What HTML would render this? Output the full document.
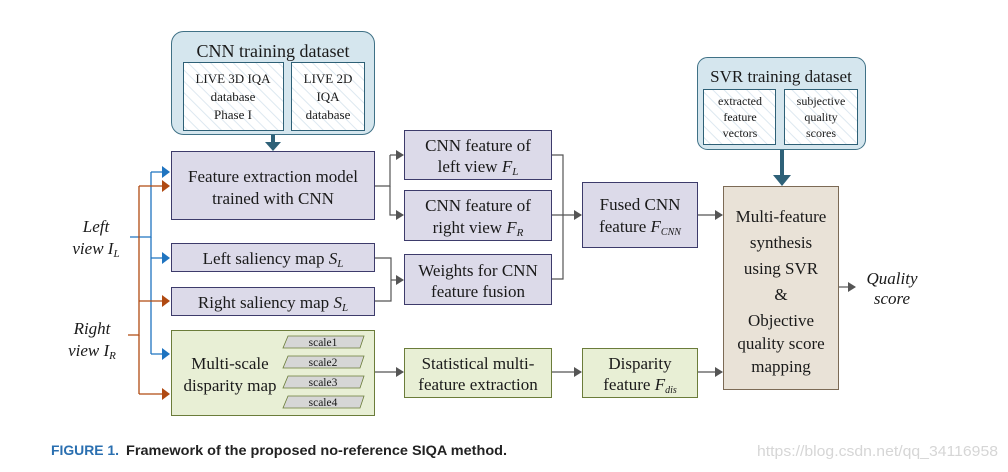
<!DOCTYPE html>
<html><head><meta charset="utf-8"><style>
html,body{margin:0;padding:0;background:#fff;}
svg{display:block;}
text{font-family:"Liberation Serif",serif;fill:#1a1a1a;}
text.sans{font-family:"Liberation Sans Narrow","Liberation Sans",sans-serif;}
.c{text-anchor:middle;}
</style></head><body>
<svg width="1008" height="472" viewBox="0 0 1008 472" xmlns="http://www.w3.org/2000/svg">
<defs>
<pattern id="hat" width="8" height="8" patternUnits="userSpaceOnUse" patternTransform="rotate(-45)">
<rect width="8" height="8" fill="#fff"/><line x1="0" y1="0" x2="0" y2="8" stroke="#dde8f0" stroke-width="2"/></pattern>
<marker id="ag" markerWidth="8" markerHeight="10" refX="7" refY="5" orient="auto" markerUnits="userSpaceOnUse"><path d="M0,0 L8,5 L0,10z" fill="#555"/></marker>
<marker id="ab" markerWidth="8" markerHeight="12" refX="7" refY="6" orient="auto" markerUnits="userSpaceOnUse"><path d="M0,0 L8,6 L0,12z" fill="#1f74c0"/></marker>
<marker id="ar" markerWidth="8" markerHeight="12" refX="7" refY="6" orient="auto" markerUnits="userSpaceOnUse"><path d="M0,0 L8,6 L0,12z" fill="#b04a12"/></marker>
</defs>

<rect x="171.5" y="31.5" width="203" height="103" rx="12" fill="#d5e6ee" stroke="#3f7186"/>
<text x="273" y="57" class="c" font-size="18">CNN training dataset</text>
<rect x="183.5" y="62.5" width="100" height="68" fill="url(#hat)" stroke="#2e6076"/>
<rect x="291.5" y="62.5" width="73" height="68" fill="url(#hat)" stroke="#2e6076"/>
<text x="233" y="83" class="c" font-size="13">LIVE 3D IQA</text>
<text x="233" y="101" class="c" font-size="13">database</text>
<text x="233" y="119" class="c" font-size="13">Phase I</text>
<text x="328" y="83" class="c" font-size="13">LIVE 2D</text>
<text x="328" y="101" class="c" font-size="13">IQA</text>
<text x="328" y="119" class="c" font-size="13">database</text>
<rect x="271" y="135" width="4" height="8" fill="#2e6178"/>
<path d="M265,142 L281,142 L273,151z" fill="#2e6178"/>

<rect x="697.5" y="57.5" width="168" height="92" rx="10" fill="#d5e6ee" stroke="#3f7186"/>
<text x="781" y="82" class="c" font-size="17">SVR training dataset</text>
<rect x="703.5" y="89.5" width="72" height="55" fill="url(#hat)" stroke="#2e6076"/>
<rect x="784.5" y="89.5" width="73" height="55" fill="url(#hat)" stroke="#2e6076"/>
<text x="740" y="105" class="c" font-size="12">extracted</text>
<text x="740" y="121" class="c" font-size="12">feature</text>
<text x="740" y="137" class="c" font-size="12">vectors</text>
<text x="821" y="105" class="c" font-size="12">subjective</text>
<text x="821" y="121" class="c" font-size="12">quality</text>
<text x="821" y="137" class="c" font-size="12">scores</text>
<rect x="780" y="150" width="4" height="26" fill="#2e6178"/>
<path d="M773,175 L791,175 L782,186z" fill="#2e6178"/>

<g fill="#dcdae9" stroke="#3d3b6b">
<rect x="171.5" y="151.5" width="203" height="68"/>
<rect x="171.5" y="243.5" width="203" height="28"/>
<rect x="171.5" y="287.5" width="203" height="28"/>
<rect x="404.5" y="130.5" width="147" height="49"/>
<rect x="404.5" y="190.5" width="147" height="50"/>
<rect x="404.5" y="254.5" width="147" height="50"/>
<rect x="582.5" y="182.5" width="115" height="65"/>
</g>
<g fill="#e8efd5" stroke="#6b7c3a">
<rect x="171.5" y="330.5" width="203" height="85"/>
<rect x="404.5" y="348.5" width="147" height="49"/>
<rect x="582.5" y="348.5" width="115" height="49"/>
</g>
<rect x="723.5" y="186.5" width="115" height="203" fill="#e9e2d7" stroke="#7c6a55"/>

<g font-size="17">
<text x="273" y="182" class="c">Feature extraction model</text>
<text x="273" y="204" class="c">trained with CNN</text>
<text x="273" y="264" class="c">Left saliency map <tspan font-style="italic">S</tspan><tspan font-style="italic" font-size="11" dy="3">L</tspan></text>
<text x="273" y="308" class="c">Right saliency map <tspan font-style="italic">S</tspan><tspan font-style="italic" font-size="11" dy="3">L</tspan></text>
<text x="230" y="369" class="c">Multi-scale</text>
<text x="230" y="391" class="c">disparity map</text>
<text x="478" y="151" class="c">CNN feature of</text>
<text x="478" y="172" class="c">left view <tspan font-style="italic">F</tspan><tspan font-style="italic" font-size="11" dy="3">L</tspan></text>
<text x="478" y="211" class="c">CNN feature of</text>
<text x="478" y="233" class="c">right view <tspan font-style="italic">F</tspan><tspan font-style="italic" font-size="11" dy="3">R</tspan></text>
<text x="478" y="276" class="c">Weights for CNN</text>
<text x="478" y="297" class="c">feature fusion</text>
<text x="640" y="210" class="c">Fused CNN</text>
<text x="640" y="232" class="c">feature <tspan font-style="italic">F</tspan><tspan font-style="italic" font-size="10" dy="3">CNN</tspan></text>
<text x="478" y="369" class="c">Statistical multi-</text>
<text x="478" y="390" class="c">feature extraction</text>
<text x="640" y="369" class="c">Disparity</text>
<text x="640" y="390" class="c">feature <tspan font-style="italic">F</tspan><tspan font-style="italic" font-size="10" dy="3">dis</tspan></text>
<text x="781" y="222" class="c">Multi-feature</text>
<text x="781" y="248" class="c">synthesis</text>
<text x="781" y="274" class="c">using SVR</text>
<text x="781" y="300" class="c">&amp;</text>
<text x="781" y="326" class="c">Objective</text>
<text x="781" y="349" class="c">quality score</text>
<text x="781" y="372" class="c">mapping</text>
<text x="892" y="284" class="c" font-style="italic">Quality</text>
<text x="892" y="304" class="c" font-style="italic">score</text>
<text x="96" y="232" class="c" font-style="italic">Left</text>
<text x="96" y="254" class="c" font-style="italic">view I<tspan font-size="11" dy="3">L</tspan></text>
<text x="92" y="334" class="c" font-style="italic">Right</text>
<text x="92" y="356" class="c" font-style="italic">view I<tspan font-size="11" dy="3">R</tspan></text>
</g>

<g fill="#d6d6d6" stroke="#6b7c3a" stroke-width="0.8">
<path d="M288,336 L364,336 L360,348 L283,348z"/>
<path d="M288,356 L364,356 L360,368 L283,368z"/>
<path d="M288,376 L364,376 L360,388 L283,388z"/>
<path d="M288,396 L364,396 L360,408 L283,408z"/>
</g>
<g font-size="11.5">
<text x="323" y="346" class="c">scale1</text>
<text x="323" y="366" class="c">scale2</text>
<text x="323" y="386" class="c">scale3</text>
<text x="323" y="406" class="c">scale4</text>
</g>

<g fill="none" stroke="#1f74c0" stroke-width="1.3">
<path d="M130,237 H151 V172"/>
<path d="M151,172 H169" marker-end="url(#ab)"/>
<path d="M151,237 V354"/>
<path d="M151,258 H169" marker-end="url(#ab)"/>
<path d="M151,354 H169" marker-end="url(#ab)"/>
</g>
<g fill="none" stroke="#b04a12" stroke-width="1.3">
<path d="M128,335 H139 V186"/>
<path d="M139,186 H169" marker-end="url(#ar)"/>
<path d="M139,335 V394"/>
<path d="M139,301 H169" marker-end="url(#ar)"/>
<path d="M139,394 H169" marker-end="url(#ar)"/>
</g>

<g fill="none" stroke="#555" stroke-width="1.2">
<path d="M375,186 H390 V155"/>
<path d="M390,155 H403" marker-end="url(#ag)"/>
<path d="M390,186 V215 H403" marker-end="url(#ag)"/>
<path d="M375,258 H391 V301 H375"/>
<path d="M391,280 H403" marker-end="url(#ag)"/>
<path d="M552,155 H563 V279 H552"/>
<path d="M552,215 H581" marker-end="url(#ag)"/>
<path d="M698,215 H722" marker-end="url(#ag)"/>
<path d="M375,372 H403" marker-end="url(#ag)"/>
<path d="M552,372 H581" marker-end="url(#ag)"/>
<path d="M698,372 H722" marker-end="url(#ag)"/>
<path d="M839,287 H855" marker-end="url(#ag)"/>
</g>

<text class="sans" x="51" y="455" font-weight="bold" font-size="14" textLength="68" lengthAdjust="spacingAndGlyphs" style="fill:#2a6fb0">FIGURE 1.</text>
<text class="sans" x="126" y="455" font-weight="bold" font-size="14" textLength="381" lengthAdjust="spacingAndGlyphs" style="fill:#222">Framework of the proposed no-reference SIQA method.</text>
<text class="sans" x="757" y="456" font-size="15" textLength="241" lengthAdjust="spacingAndGlyphs" style="fill:#d6d6d6">https://blog.csdn.net/qq_34116958</text>
</svg>
</body></html>
